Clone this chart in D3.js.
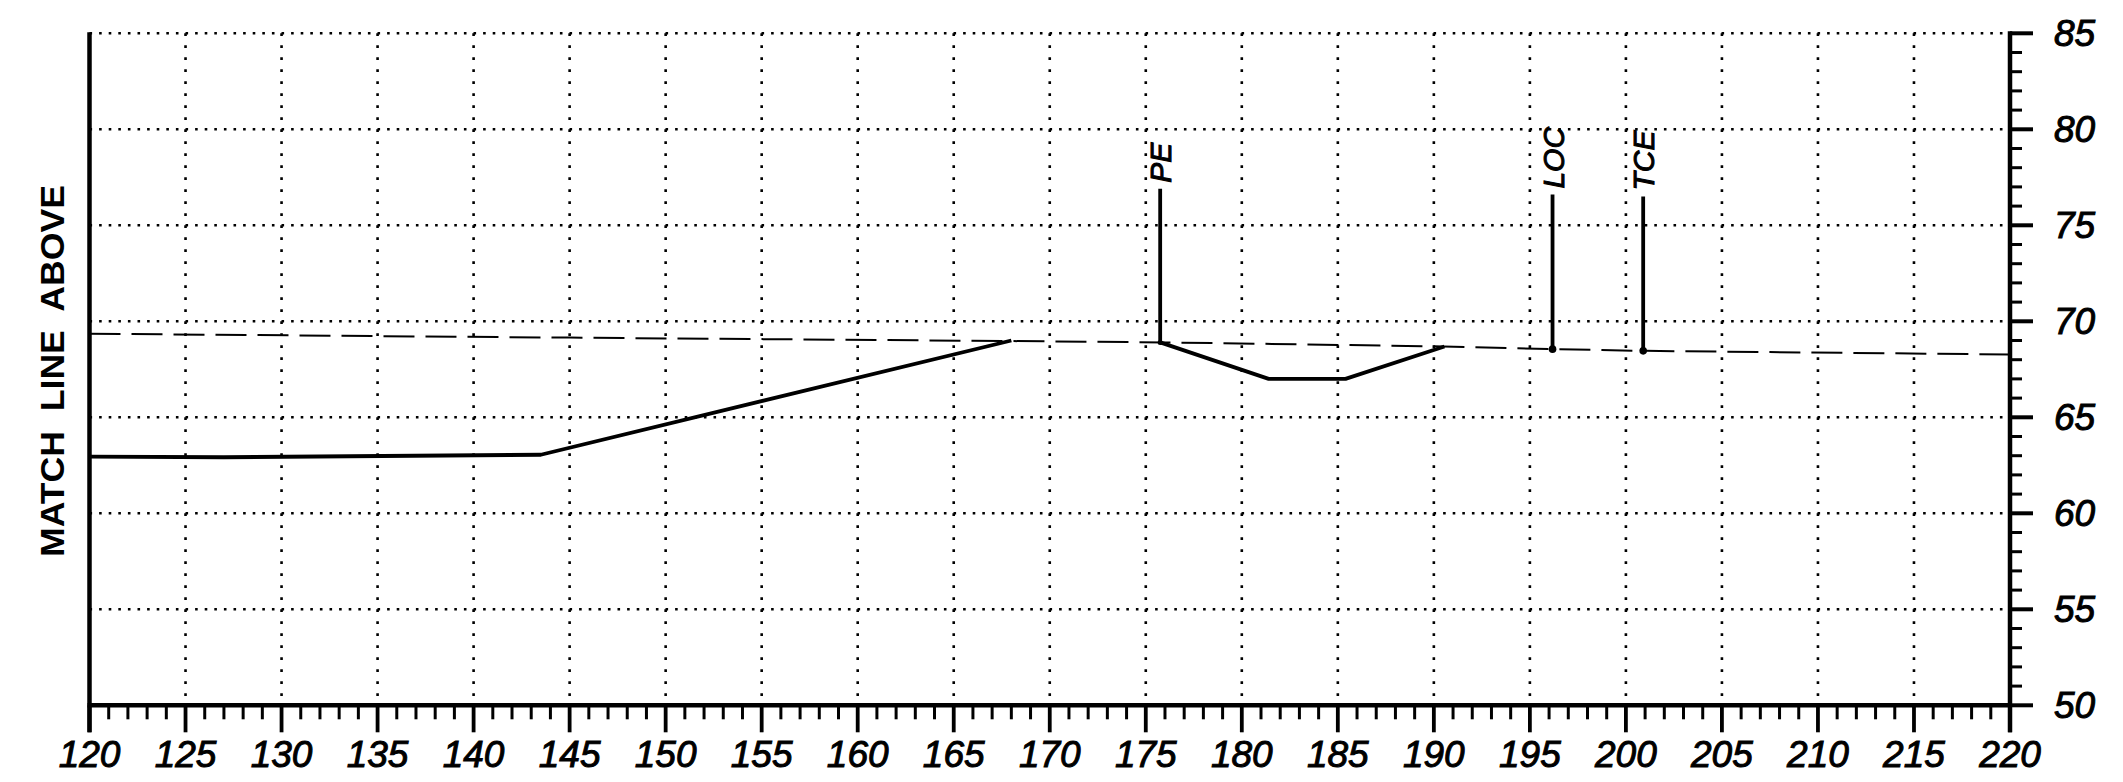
<!DOCTYPE html>
<html><head><meta charset="utf-8">
<script src="https://cdn.jsdelivr.net/npm/d3@7"></script>
<style>html,body{margin:0;padding:0;background:#fff;}svg{display:block;}</style>
</head><body>
<script>
const xTicks = [120,125,130,135,140,145,150,155,160,165,170,175,180,185,190,195,200,205,210,215,220];
const yTicks = [50,55,60,65,70,75,80,85];
const existingX = [120,145,168,176,190.5,196.2,201,220];
const existingY = [69.35,69.15,68.97,68.9,68.69,68.55,68.46,68.27];
const proposedAX = [120,127,143.5,168];
const proposedAY = [62.95,62.92,63.05,69.0];
const proposedBX = [175.75,181.4,185.4,190.55];
const proposedBY = [68.9,67.0,67.0,68.69];
const markerNames = ["PE","LOC","TCE"];
const markerX = [175.75,196.18,200.9];
const markerBase = [68.9,68.55,68.46];
const markerTop = [76.9,76.6,76.5];
const sideLabel = "MATCH  LINE  ABOVE";

const W=2123,H=782;
const svg=d3.select("body").append("svg").attr("width",W).attr("height",H);
const x=d3.scaleLinear().domain([120,220]).range([89.5,2010]);
const y=d3.scaleLinear().domain([50,85]).range([705.3,33.3]);
const labelFont="'Liberation Sans', Arial, sans-serif";

// grid
const g=svg.append("g");
g.selectAll("line.vg").data(xTicks.filter(d=>d>120&&d<220)).join("line")
 .attr("x1",d=>x(d)).attr("x2",d=>x(d)).attr("y1",y(85)).attr("y2",y(50))
 .attr("stroke","#000").attr("stroke-width",2.6).attr("stroke-dasharray","2.6,9.4");
g.selectAll("line.hg").data(yTicks.filter(d=>d>50)).join("line")
 .attr("x1",x(120)).attr("x2",x(220)).attr("y1",d=>y(d)).attr("y2",d=>y(d))
 .attr("stroke","#000").attr("stroke-width",2.6).attr("stroke-dasharray","2.6,7");

// existing (dashed)
const line=d3.line().x(d=>x(d[0])).y(d=>y(d[1]));
svg.append("path").datum(existingX.map((v,i)=>[v,existingY[i]])).attr("d",line)
 .attr("fill","none").attr("stroke","#000").attr("stroke-width",2).attr("stroke-dasharray","31,11");
// proposed (solid)
[[proposedAX,proposedAY],[proposedBX,proposedBY]].forEach(([xs,ys])=>{
 svg.append("path").datum(xs.map((v,i)=>[v,ys[i]])).attr("d",line)
  .attr("fill","none").attr("stroke","#000").attr("stroke-width",3.8).attr("stroke-linejoin","round");
});
// markers
const mk=svg.append("g");
markerNames.forEach((n,i)=>{
 mk.append("line").attr("x1",x(markerX[i])).attr("x2",x(markerX[i]))
  .attr("y1",y(markerBase[i])).attr("y2",y(markerTop[i])).attr("stroke","#000").attr("stroke-width",3.8);
 mk.append("circle").attr("cx",x(markerX[i])).attr("cy",y(markerBase[i])).attr("r",i==0?2.5:3.8).attr("fill","#000");
 mk.append("text").attr("transform",`translate(${x(markerX[i])+11},${y(markerTop[i])-6}) rotate(-90)`)
  .attr("font-family",labelFont).attr("font-style","italic").attr("font-size",30)
  .attr("stroke","#000").attr("stroke-width",1)
  .attr("text-anchor","start").attr("fill","#000").text(n);
});

// bottom axis
const minorX=d3.range(120,221,1);
const ax=svg.append("g");
ax.selectAll("line.mt").data(minorX).join("line")
 .attr("x1",d=>x(d)).attr("x2",d=>x(d)).attr("y1",y(50))
 .attr("y2",d=>d%5===0?y(50)+27:y(50)+14)
 .attr("stroke","#000").attr("stroke-width",d=>d%5===0?3.8:3);
ax.append("line").attr("x1",x(120)-2).attr("x2",x(220)+2).attr("y1",y(50)).attr("y2",y(50))
 .attr("stroke","#000").attr("stroke-width",4.5);
ax.selectAll("text").data(xTicks).join("text")
 .attr("x",d=>x(d)).attr("y",767).attr("text-anchor","middle")
 .attr("stroke","#000").attr("stroke-width",1)
 .attr("font-family",labelFont).attr("font-style","italic").attr("font-size",37).text(d=>d);

// left axis
svg.append("line").attr("x1",x(120)).attr("x2",x(120)).attr("y1",y(85)-1).attr("y2",y(50)+27)
 .attr("stroke","#000").attr("stroke-width",4.5);

// right axis
const minorY=d3.range(50,86,1);
const ay=svg.append("g");
ay.selectAll("line").data(minorY).join("line")
 .attr("y1",d=>y(d)).attr("y2",d=>y(d)).attr("x1",x(220))
 .attr("x2",d=>d%5===0?x(220)+23:x(220)+12)
 .attr("stroke","#000").attr("stroke-width",d=>d%5===0?4:3);
ay.append("line").attr("x1",x(220)).attr("x2",x(220)).attr("y1",y(85)-2).attr("y2",y(50)+27)
 .attr("stroke","#000").attr("stroke-width",4.5);
ay.selectAll("text").data(yTicks).join("text")
 .attr("x",x(220)+44).attr("y",d=>y(d)+13)
 .attr("stroke","#000").attr("stroke-width",1)
 .attr("font-family",labelFont).attr("font-style","italic").attr("font-size",37).text(d=>d);

// side label
svg.append("text").attr("transform","translate(64,371) rotate(-90)")
 .attr("text-anchor","middle").attr("font-family","'Liberation Sans Narrow','Liberation Sans',Arial,sans-serif")
 .attr("font-weight","bold").attr("font-size",33).attr("textLength",372).attr("lengthAdjust","spacingAndGlyphs")
 .attr("xml:space","preserve").style("white-space","pre").text(sideLabel);
</script>
</body></html>
